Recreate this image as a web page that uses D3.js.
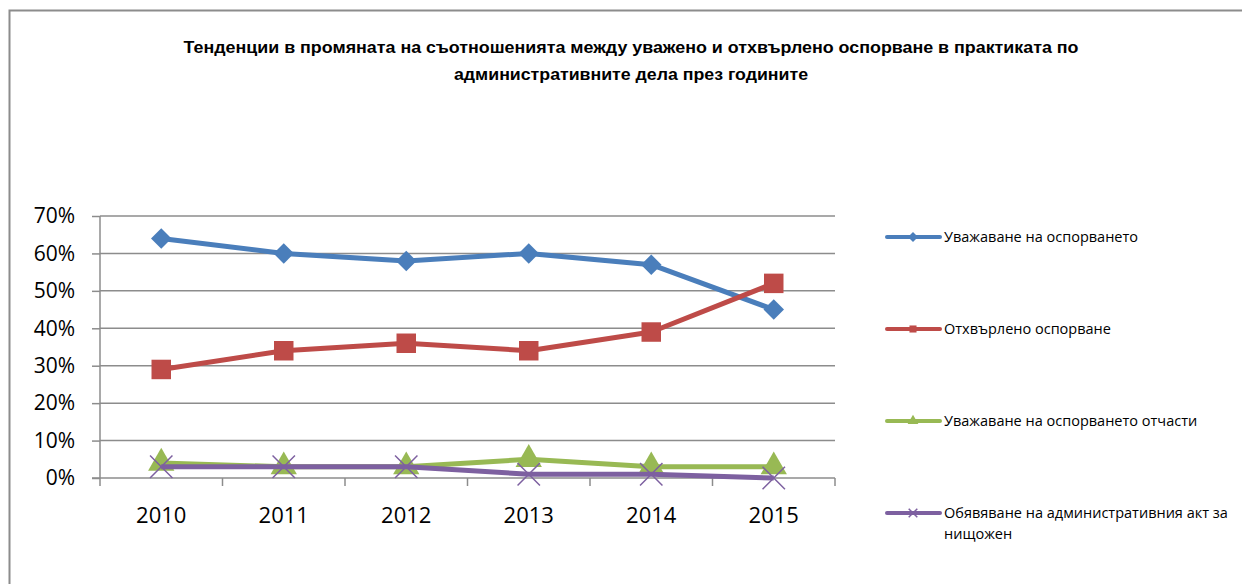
<!DOCTYPE html>
<html>
<head>
<meta charset="utf-8">
<script src="https://cdn.jsdelivr.net/npm/d3@7"></script>
<style>
  body { margin: 0; background: #fff; }
  svg { display: block; font-family: "Open Sans", "Liberation Sans", sans-serif; }
</style>
</head>
<body>
<main></main>
<script>
// datos
const anios = ['2010', '2011', '2012', '2013', '2014', '2015'];
const uvazhavane = [64, 60, 58, 60, 57, 45];
const othvarleno = [29, 34, 36, 34, 39, 52];
const otchasti = [4, 3, 3, 5, 3, 3];
const obyavyavane = [3, 3, 3, 1, 1, 0];
const ticksY = [0, 10, 20, 30, 40, 50, 60, 70];
const nombres = [
    'Уважаване на оспорването',
    'Отхвърлено оспорване',
    'Уважаване на оспорването отчасти',
    'Обявяване на административния акт за нищожен'
];

const w = 1242;
const h = 584;

const svg = d3.select('main')
    .append('svg')
    .attr('width', w)
    .attr('height', h);

// marco exterior
svg.append('path')
    .attr('d', `M9.5,${h} L9.5,10.5 L${w},10.5`)
    .attr('fill', 'none')
    .attr('stroke', '#8c8c8c')
    .attr('stroke-width', 2);

// titulo
const titulo = svg.append('text')
    .attr('text-anchor', 'middle')
    .attr('font-size', 16)
    .attr('font-weight', 'bold')
    .attr('font-family', '"Liberation Sans", Arial, sans-serif')
    .attr('fill', '#000');
titulo.append('tspan').attr('x', 631).attr('y', 53)
    .attr('textLength', 895).attr('lengthAdjust', 'spacingAndGlyphs')
    .text('Тенденции в промяната на съотношенията между уважено и отхвърлено оспорване в практиката по');
titulo.append('tspan').attr('x', 631).attr('y', 80)
    .attr('textLength', 354).attr('lengthAdjust', 'spacingAndGlyphs')
    .text('административните дела през годините');

// escalas
const x = d3.scaleBand().domain(anios).range([100, 835]);
const y = d3.scaleLinear().domain([0, 70]).range([478, 216]);

// cuadricula
svg.append('g')
    .selectAll('line')
    .data(ticksY.slice(1))
    .enter()
    .append('line')
    .attr('x1', 100).attr('x2', 835)
    .attr('y1', d => y(d)).attr('y2', d => y(d))
    .attr('stroke', '#8c8c8c')
    .attr('stroke-width', 1.5);

// eje Y
const ejeY = svg.append('g')
    .attr('transform', 'translate(100,0)')
    .call(d3.axisLeft(y).tickValues(ticksY).tickSize(8).tickPadding(17).tickFormat(d => d + '%'));
ejeY.selectAll('line, path').attr('stroke', '#8c8c8c').attr('stroke-width', 1.5);
ejeY.select('.domain').attr('d', 'M0,478V216');
ejeY.selectAll('text').attr('font-size', 21).attr('fill', '#000')
    .attr('font-family', '"Open Sans", "Liberation Sans", sans-serif');

// eje X
const ejeX = svg.append('g').attr('transform', 'translate(0,478)');
ejeX.append('line').attr('x1', 92).attr('x2', 835)
    .attr('stroke', '#8c8c8c').attr('stroke-width', 1.5);
const bordes = anios.map(a => x(a)).concat([x.range()[1]]);
ejeX.selectAll('.tick')
    .data(bordes)
    .enter()
    .append('line')
    .attr('x1', d => d).attr('x2', d => d)
    .attr('y1', 0).attr('y2', 8)
    .attr('stroke', '#8c8c8c').attr('stroke-width', 1.5);
ejeX.selectAll('text')
    .data(anios)
    .enter()
    .append('text')
    .attr('x', d => x(d) + x.bandwidth() / 2)
    .attr('y', 45)
    .attr('text-anchor', 'middle')
    .attr('font-size', 22)
    .text(d => d);

// series
const series = [
    { valores: uvazhavane, color: '#4a7ebb', marca: d3.symbolSquare, tam: 210, rot: 45 },
    { valores: othvarleno, color: '#be4b48', marca: d3.symbolSquare, tam: 380, rot: 0 },
    { valores: otchasti, color: '#98b954', marca: d3.symbolTriangle, tam: 300, rot: 0 },
    { valores: obyavyavane, color: '#7d60a0', marca: d3.symbolX, tam: 330, rot: 0 }
];

const linea = d3.line()
    .x((d, i) => x(anios[i]) + x.bandwidth() / 2)
    .y(d => y(d));

series.forEach(s => {
    svg.append('path')
        .datum(s.valores)
        .attr('d', linea)
        .attr('fill', 'none')
        .attr('stroke', s.color)
        .attr('stroke-width', 5)
        .attr('stroke-linejoin', 'round');

    svg.append('g')
        .selectAll('path')
        .data(s.valores)
        .enter()
        .append('path')
        .attr('transform', (d, i) => `translate(${x(anios[i]) + x.bandwidth() / 2},${y(d)}) rotate(${s.rot})`)
        .attr('d', d3.symbol().type(s.marca).size(s.tam))
        .attr('fill', s.marca === d3.symbolX ? 'none' : s.color)
        .attr('stroke', s.color)
        .attr('stroke-width', s.marca === d3.symbolX ? 1.5 : 0);
});

// leyenda
const filas = [237, 329, 421, 513];
const leyenda = svg.append('g');
series.forEach((s, i) => {
    const g = leyenda.append('g').attr('transform', `translate(0,${filas[i]})`);
    g.append('line')
        .attr('x1', 887).attr('x2', 940)
        .attr('stroke', s.color).attr('stroke-width', 4)
        .attr('stroke-linecap', 'round');
    g.append('path')
        .attr('transform', `translate(913,0) rotate(${s.rot})`)
        .attr('d', d3.symbol().type(s.marca).size(50))
        .attr('fill', s.marca === d3.symbolX ? 'none' : s.color)
        .attr('stroke', s.color)
        .attr('stroke-width', s.marca === d3.symbolX ? 1.5 : 0);
    const t = g.append('text')
        .attr('x', 944)
        .attr('y', 5)
        .attr('font-size', 14.5)
        .attr('fill', '#000');
    if (i === 3) {
        t.append('tspan').attr('x', 944).text('Обявяване на административния акт за');
        t.append('tspan').attr('x', 944).attr('dy', 21).text('нищожен');
    } else {
        t.text(nombres[i]);
    }
});
</script>
</body>
</html>
